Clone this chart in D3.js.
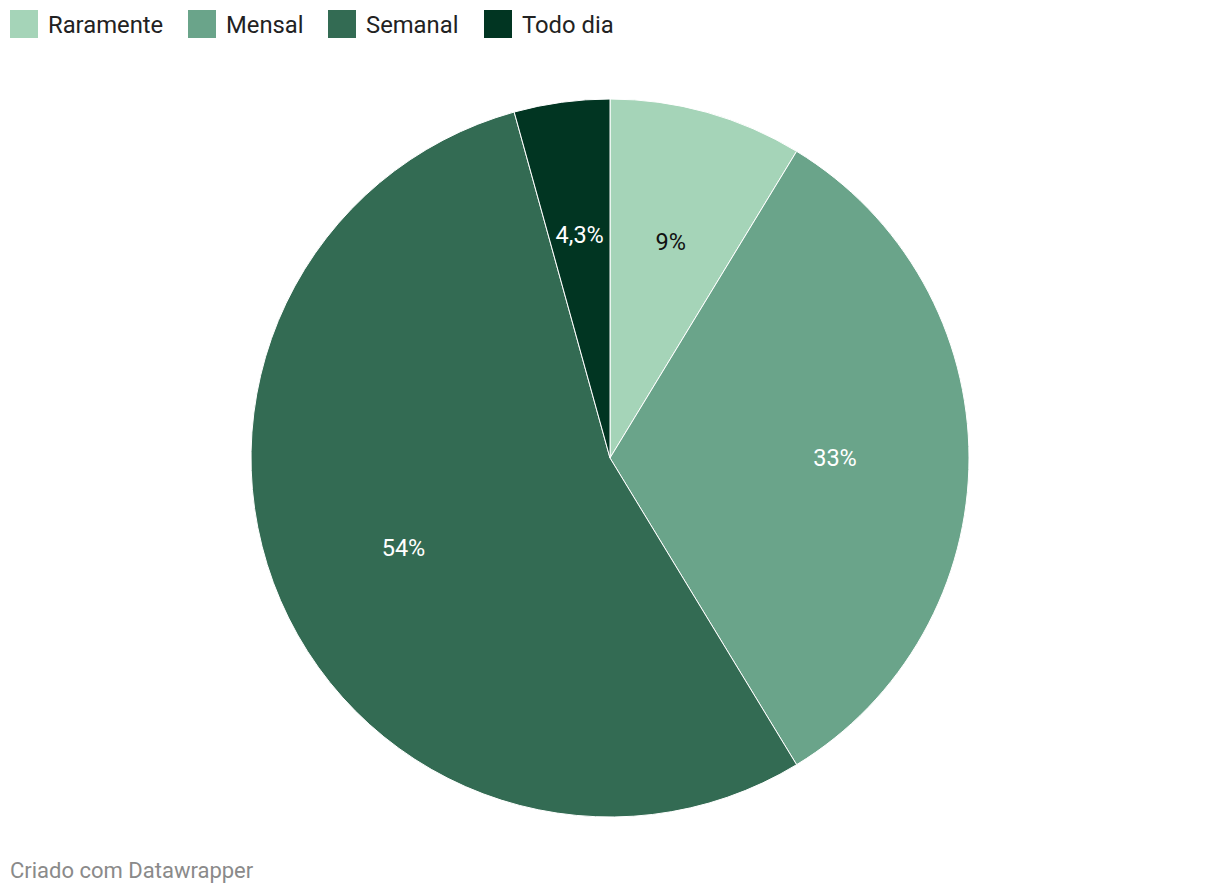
<!DOCTYPE html>
<html><head><meta charset="utf-8">
<script src="https://cdn.jsdelivr.net/npm/d3@7"></script>
<style>body{margin:0;background:#fff;font-family:Roboto,sans-serif}</style>
</head><body>
<svg id="c" width="1220" height="894"></svg>
<script>
const categories = ["Raramente","Mensal","Semanal","Todo dia"];
const values = [8.7, 32.6, 54.4, 4.3];
const labels = ["9%","33%","54%","4,3%"];
const colors = ["#a5d4b8","#6aa48a","#336b53","#013522"];
const labelColors = ["#111","#fff","#fff","#fff"];
const footer = "Criado com Datawrapper";

const svg = d3.select("#c");
const cx = 610, cy = 458, R = 359;
const data = categories.map((c,i)=>({c, v:values[i], l:labels[i], col:colors[i], lc:labelColors[i]}));
const pie = d3.pie().value(d=>d.v).sort(null);
const arc = d3.arc().innerRadius(0).outerRadius(R);
const labelArc = d3.arc().innerRadius(225).outerRadius(225);
const g = svg.append("g").attr("transform",`translate(${cx},${cy})`);
const arcs = pie(data);
g.selectAll("path").data(arcs).join("path")
  .attr("d",arc).attr("fill",d=>d.data.col).attr("stroke","#fff").attr("stroke-width",1);
g.selectAll("text").data(arcs).join("text")
  .attr("transform",d=>`translate(${labelArc.centroid(d)})`)
  .attr("text-anchor","middle").attr("dy","0.35em")
  .attr("font-size",23.5).attr("fill",d=>d.data.lc).text(d=>d.data.l);

// legend
const legX = [10,188,328,484];
const leg = svg.append("g");
data.forEach((d,i)=>{
  leg.append("rect").attr("x",legX[i]).attr("y",10).attr("width",28).attr("height",28).attr("fill",d.col);
  leg.append("text").attr("x",legX[i]+38).attr("y",32.5).attr("font-size",23.8).attr("fill","#222").text(d.c);
});
svg.append("text").attr("x",10).attr("y",878).attr("font-size",22).attr("fill","#8a8a8a").text(footer);
</script>
</body></html>
